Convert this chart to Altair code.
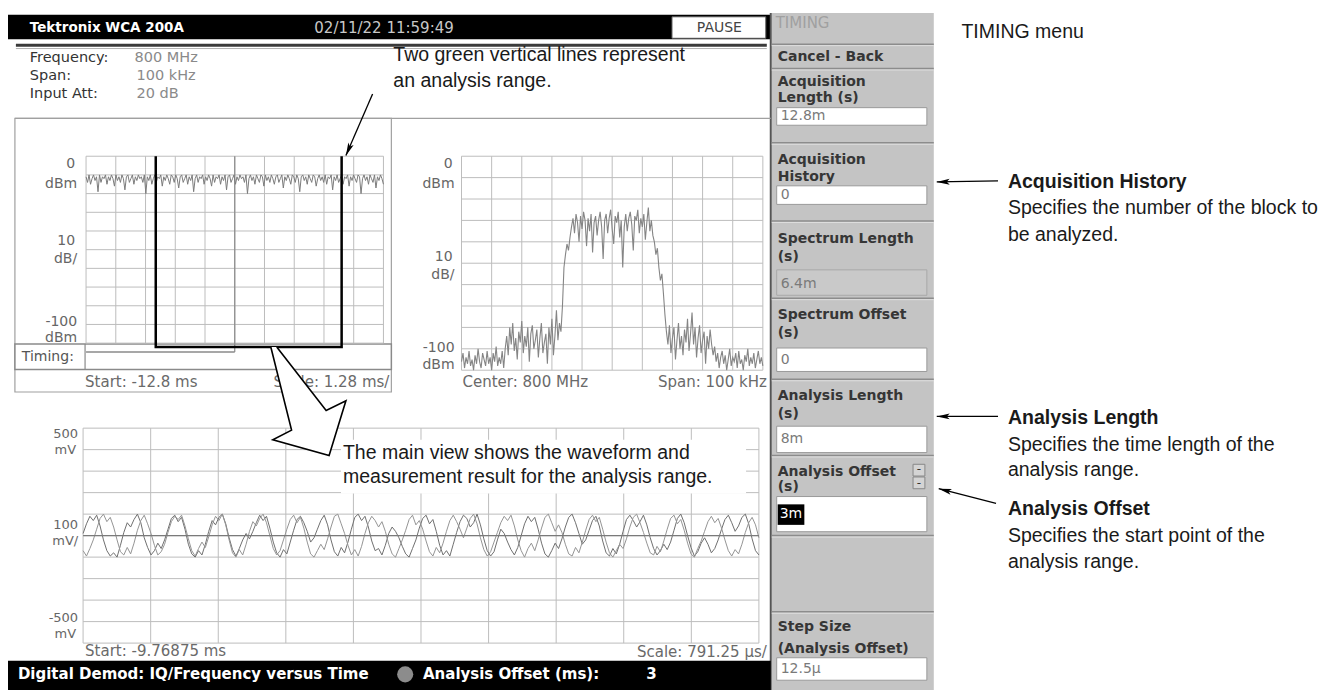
import math
import altair as alt
import pandas as pd

# ---------------- values ----------------
instrument = "Tektronix  WCA 200A"
timestamp = "02/11/22 11:59:49"
run_state = "PAUSE"
center_freq_mhz = 800
span_khz = 100
input_att_db = 20

# overview (power versus time), 0 dBm top, 10 dB/div
time_start_ms = -12.8
time_div_ms = 1.28
time_power_dbm = [
    -11, -14, -10, -15, -12, -10, -13, -11, -19, -10, -14, -11, -12, -10, -15, -11, -13, -10, -12, -16,
    -10, -13, -11, -14, -10, -12, -18, -11, -10, -14, -12, -10, -15, -11, -13, -10, -12, -11, -14, -10,
    -20, -11, -13, -10, -15, -12, -10, -14, -11, -12, -10, -16, -11, -13, -10, -12, -15, -10, -11, -14,
    -10, -12, -17, -11, -10, -14, -12, -10, -15, -11, -13, -10, -19, -12, -10, -14, -11, -12, -10, -15,
    -11, -13, -10, -12, -16, -10, -14, -11, -12, -10, -15, -11, -13, -10, -18, -11, -10, -14, -12, -10,
    -15, -11, -13, -10, -12, -11, -14, -10, -20, -12, -10, -13, -11, -15, -10, -12, -14, -10, -11, -16,
    -10, -13, -11, -14, -10, -12, -15, -11, -10, -14, -12, -10, -17, -11, -13, -10, -12, -15, -10, -11,
    -14, -10, -12, -19, -11, -10, -13, -11, -15, -10, -12, -14, -10, -11, -16, -12, -10, -13, -11, -14,
    -10, -15, -11, -12, -10, -18, -11, -13, -10, -14, -12, -10, -15, -11, -12, -10, -16, -11, -13, -10,
    -12, -14, -10, -11, -20, -12, -10, -13, -11, -15, -10, -12, -14, -10, -17, -11, -13, -10, -12, -15]

# spectrum (dBm), sampled every 0.5 kHz from -50 kHz to +50 kHz around the centre
spec_power_dbm = [
    -96, -92, -99, -94, -97, -91, -98, -95, -100, -93, -97, -90, -96, -99, -92, -95, -98, -91, -97, -94,
    -100, -92, -96, -89, -98, -94, -97, -91, -99,
    -90, -84, -93, -80, -88, -78, -91, -85, -95, -82, -87, -77, -92, -84, -89, -80, -96, -83, -79, -90,
    -86, -81, -94, -85, -78, -92, -87, -83, -97, -80, -88, -76, -93, -84, -72, -86, -78, -82,
    -70, -52, -46, -41, -44,
    -38, -33, -29, -36, -27, -31, -40, -28, -34, -26, -30, -42, -29, -35, -27, -45, -31, -28, -37, -30,
    -26, -33, -48, -30, -27, -36, -29, -25, -34, -41, -28, -31, -26, -38, -30, -52, -33, -27, -35, -29,
    -26, -32, -44, -28, -30, -25, -36, -29, -33, -27, -39, -31, -24, -35, -30, -37,
    -40, -46, -43, -52, -58, -55, -64, -74,
    -82, -88, -79, -92, -85, -80, -95, -86, -78, -90, -84, -93, -81, -87, -76, -91, -83, -73, -88, -80,
    -94, -85, -79, -92, -86, -82, -97, -84, -90, -81, -88, -93,
    -89, -96, -92, -99, -94, -91, -97, -93, -100, -95, -90, -98, -94, -96, -92, -99, -91, -97, -95, -100,
    -93, -96, -90, -98, -94, -97, -92, -99, -95, -91, -97, -94, -98]

# main view: IQ versus time (mV), 100 mV/div
wave_start_ms = -9.76875
wave_div_us = 791.25
wave_i_mv = [
    10, 55, 90, 70, 95, 45, -20, -70, -95, -80, -100, -45, 15, 60, 40, 75, 100, 60, -10, -55,
    -90, -70, -35, -60, -20, 30, 80, 95, 65, 85, 30, -40, -85, -100, -70, -90, -40, 20, 70, 50,
    85, 100, 55, -10, -65, -95, -60, -20, 10, -15, 20, 60, 95, 70, 90, 35, -30, -80, -100, -65,
    -85, -30, 25, 75, 90, 60, 20, -30, -10, 30, 70, 95, 50, -20, -75, -95, -55, -80, -30, 30,
    85, 100, 70, 90, 40, -25, -70, -60, -90, -45, 10, 40, 20, -10, -50, -85, -100, -60, -20, 35,
    80, 95, 55, 75, 20, -45, -90, -70, -95, -40, 15, 65, 95, 80, 40, 60, 100, 50, -15, -70,
    -95, -75, -20, 30, 10, -30, -65, -90, -55, 0, 55, 90, 65, 85, 30, -35, -85, -100, -70, -35,
    -60, -15, 40, 85, 100, 60, 10, -40, -20, 25, 70, 90, 45, -25, -80, -95, -60, -85, -40, 20,
    75, 95, 70, 40, 65, 95, 50, -10, -60, -90, -70, -40, -65, -30, 25, 80, 100, 60, 0, -55,
    -95, -75, -35, -10, -40, -80, -60, -20, 30, 75, 95, 60, 20, 45, 85, 100, 55, -15, -70, -90]
wave_q_mv = [
    -70, -95, -60, -20, 30, 80, 100, 65, 85, 40, -20, -75, -90, -55, -85, -35, 25, 70, 95, 55,
    10, -45, -90, -75, -40, 15, 65, 90, 75, 95, 45, -15, -70, -95, -60, -30, -55, -5, 50, 90,
    70, 100, 50, -20, -80, -100, -65, -90, -40, 20, 65, 45, 80, 100, 60, 0, -60, -90, -70, -20,
    30, 75, 95, 60, 85, 35, -30, -85, -100, -70, -40, -65, -15, 40, 90, 100, 55, 10, -45, -90,
    -65, -95, -50, 10, 60, 90, 70, 40, 65, 20, -40, -85, -100, -60, -20, 25, 75, 95, 50, 70,
    30, -25, -75, -95, -55, -80, -35, 20, 70, 95, 65, 30, -10, 35, 80, 100, 55, -10, -65, -95,
    -75, -30, 15, 60, 90, 70, 95, 45, -20, -70, -100, -60, -35, -70, -20, 35, 85, 100, 60, 20,
    50, 15, -40, -85, -95, -55, -80, -30, 25, 75, 95, 65, 85, 30, -30, -80, -100, -70, -40, -60,
    -15, 40, 85, 100, 60, 15, -35, -80, -90, -50, -75, -25, 30, 80, 95, 55, 75, 25, -35, -85,
    -100, -60, -25, 20, 65, 90, 60, 80, 35, -20, -70, -95, -65, -85, -40, 15, 60, 85, 50, -10]

# TIMING menu settings
acquisition_length_ms = 12.8
acquisition_history = 0
spectrum_length_ms = 6.4
spectrum_offset_ms = 0
analysis_length_ms = 8
analysis_offset_ms = 3
step_size_us = 12.5

# ---------------- layout (reference pixel space) ----------------
W, H = 1321, 682
RW, RH = 1337, 698


def X(r):
    return r * W / RW


def Y(r):
    return r * H / RH


UI = "DejaVu Sans"
AN = "Liberation Sans"

canvas_x = alt.Scale(domain=[0, RW], range=[0, W], nice=False, zero=False)
canvas_y = alt.Scale(domain=[0, RH], range=[0, H], nice=False, zero=False)


def cx(f="x"):
    return alt.X(f"{f}:Q", scale=canvas_x, axis=None)


def cy(f="y"):
    return alt.Y(f"{f}:Q", scale=canvas_y, axis=None)


def rects(rows, **mk):
    return alt.Chart(alt.Data(values=rows)).mark_rect(**mk).encode(
        x=cx(), x2=alt.X2("x2:Q"), y=cy(), y2=alt.Y2("y2:Q"))


def segs(rows, **mk):
    return alt.Chart(alt.Data(values=rows)).mark_rule(**mk).encode(
        x=cx(), x2=alt.X2("x2:Q"), y=cy(), y2=alt.Y2("y2:Q"))


def texts(rows, **mk):
    mk.setdefault("baseline", "middle")
    mk.setdefault("align", "left")
    return alt.Chart(alt.Data(values=rows)).mark_text(**mk).encode(x=cx(), y=cy(), text="t:N")


def hline(y, x0, x1):
    return dict(x=x0, x2=x1, y=y, y2=y)


def vline(x, y0, y1):
    return dict(x=x, x2=x, y=y0, y2=y1)


# ---------------- background chrome ----------------
MX0, MX1 = 773, 937
BX0, BX1 = 778, 930
SEPS = [37, 62, 138, 218, 297, 380, 458, 540, 618]
bg_layers = [
    rects([dict(x=0, x2=772, y=7, y2=32)], color="black"),
    rects([dict(x=672, x2=767, y=9, y2=31)], fill="white", stroke="#555", strokeWidth=1),
    segs([hline(38, 8, 768)], color="#3a3a3a", strokeWidth=3),
    segs([hline(41.5, 8, 768)], color="#b0b0b0", strokeWidth=1),
    # menu panel
    rects([dict(x=MX0, x2=MX1, y=5, y2=RH)], color="#c4c4c4"),
    segs([vline(772, 5, RH)], color="#555", strokeWidth=2),
    segs([hline(y, MX0, MX1) for y in SEPS], color="#8c8c8c", strokeWidth=1.5),
    segs([hline(y + 1.5, MX0, MX1) for y in SEPS], color="#dedede", strokeWidth=1),
    rects([dict(x=BX0, x2=BX1, y=a, y2=b) for a, b in [(102, 120), (182, 201), (348, 372),
                                                       (428, 455), (500, 536), (665, 688)]],
          fill="white", stroke="#9a9a9a", strokeWidth=1),
    rects([dict(x=BX0, x2=BX1, y=268, y2=294)], fill="#c9c9c9", stroke="#a8a8a8", strokeWidth=1),
    rects([dict(x=916, x2=928, y=467, y2=479), dict(x=916, x2=928, y=480, y2=492)],
          fill="#d4d4d4", stroke="#888", strokeWidth=1),
    rects([dict(x=BX0 + 1, x2=806, y=508, y2=529)], color="black"),
    # frames of the two upper views
    segs([hline(113, 7, 772)], color="#a0a0a0", strokeWidth=1.2),
    rects([dict(x=7, x2=388, y=113, y2=393)], fillOpacity=0, stroke="#a0a0a0", strokeWidth=1.2),
    rects([dict(x=7, x2=388, y=344, y2=370)], fill="white", stroke="#8a8a8a", strokeWidth=1.5),
    segs([vline(78, 344, 370)], color="#8a8a8a", strokeWidth=1.2),
    # footer
    rects([dict(x=0, x2=772, y=668, y2=RH)], color="black"),
    alt.Chart(alt.Data(values=[dict(x=402, y=682)])).mark_point(
        filled=True, size=260, color="#8c8c8c", opacity=1).encode(x=cx(), y=cy()),
]
background = alt.layer(*bg_layers)

# ---------------- overview panel (power versus time) ----------------
t_end = time_start_ms + 10 * time_div_ms
tsx = alt.Scale(domain=[time_start_ms, t_end], range=[X(79), X(380)], nice=False, zero=False)
tsy = alt.Scale(domain=[-100, 0], range=[Y(343), Y(151.7)], nice=False, zero=False)
n_t = len(time_power_dbm)
time_df = pd.DataFrame({
    "t": [time_start_ms + i * (t_end - time_start_ms) / (n_t - 1) for i in range(n_t)],
    "p": time_power_dbm,
})
t_grid_x = pd.DataFrame({"t": [time_start_ms + k * time_div_ms for k in range(11)]})
t_grid_y = pd.DataFrame({"p": [-10 * k for k in range(11)]})
a0 = time_start_ms + analysis_offset_ms
a1 = a0 + analysis_length_ms
bracket_df = pd.DataFrame({"t": [a0, a0, a1, a1], "p": [0, -102, -102, 0], "i": [0, 1, 2, 3]})
s0 = time_start_ms + spectrum_offset_ms
s1 = s0 + spectrum_length_ms
one = alt.Data(values=[{}])

time_panel = alt.layer(
    alt.Chart(t_grid_x).mark_rule(color="#bdbdbd", strokeWidth=1).encode(
        x=alt.X("t:Q", scale=tsx, axis=None),
        y=alt.Y(datum=0, scale=tsy, axis=None), y2=alt.Y2(datum=-100)),
    alt.Chart(t_grid_y).mark_rule(color="#bdbdbd", strokeWidth=1).encode(
        y=alt.Y("p:Q", scale=tsy, axis=None),
        x=alt.X(datum=time_start_ms, scale=tsx, axis=None), x2=alt.X2(datum=t_end)),
    alt.Chart(one).mark_rule(color="#8a8a8a", strokeWidth=1.2).encode(
        x=alt.X(datum=s1, scale=tsx, axis=None),
        y=alt.Y(datum=0, scale=tsy, axis=None), y2=alt.value(Y(352))),
    alt.Chart(one).mark_rule(color="#8a8a8a", strokeWidth=1.5).encode(
        x=alt.X(datum=s0, scale=tsx, axis=None), x2=alt.X2(datum=s1),
        y=alt.value(Y(352))),
    alt.Chart(time_df).mark_line(color="#7c7c7c", strokeWidth=1).encode(
        x=alt.X("t:Q", scale=tsx, axis=None), y=alt.Y("p:Q", scale=tsy, axis=None)),
    alt.Chart(bracket_df).mark_line(color="black", strokeWidth=2.5, strokeJoin="miter").encode(
        x=alt.X("t:Q", scale=tsx, axis=None), y=alt.Y("p:Q", scale=tsy, axis=None),
        order="i:Q"),
)

# ---------------- spectrum panel ----------------
half = span_khz / 2
fsx = alt.Scale(domain=[-half, half], range=[X(459), X(764)], nice=False, zero=False)
fsy = alt.Scale(domain=[-100, 0], range=[Y(370.7), Y(151.7)], nice=False, zero=False)
n_f = len(spec_power_dbm)
spec_df = pd.DataFrame({"f": [-half + i * span_khz / (n_f - 1) for i in range(n_f)],
                        "p": spec_power_dbm})
f_grid_x = pd.DataFrame({"f": [-half + k * span_khz / 10 for k in range(11)]})
f_grid_y = pd.DataFrame({"p": [-10 * k for k in range(11)]})
spec_panel = alt.layer(
    alt.Chart(f_grid_x).mark_rule(color="#bdbdbd", strokeWidth=1).encode(
        x=alt.X("f:Q", scale=fsx, axis=None),
        y=alt.Y(datum=0, scale=fsy, axis=None), y2=alt.Y2(datum=-100)),
    alt.Chart(f_grid_y).mark_rule(color="#bdbdbd", strokeWidth=1).encode(
        y=alt.Y("p:Q", scale=fsy, axis=None),
        x=alt.X(datum=-half, scale=fsx, axis=None), x2=alt.X2(datum=half)),
    alt.Chart(spec_df).mark_line(color="#858585", strokeWidth=1.1).encode(
        x=alt.X("f:Q", scale=fsx, axis=None), y=alt.Y("p:Q", scale=fsy, axis=None)),
)

# ---------------- main view (IQ versus time) ----------------
w_end = wave_start_ms + 10 * wave_div_us / 1000
wsx = alt.Scale(domain=[wave_start_ms, w_end], range=[X(76), X(760)], nice=False, zero=False)
wsy = alt.Scale(domain=[-500, 500], range=[Y(650), Y(430)], nice=False, zero=False)
rows = []
for name, series in (("I", wave_i_mv), ("Q", wave_q_mv)):
    n = len(series)
    for i, v in enumerate(series):
        rows.append({"t": wave_start_ms + i * (w_end - wave_start_ms) / (n - 1), "v": v, "s": name})
wave_df = pd.DataFrame(rows)
w_grid_x = pd.DataFrame({"t": [wave_start_ms + k * wave_div_us / 1000 for k in range(11)]})
w_grid_y = pd.DataFrame({"v": [-500 + 100 * k for k in range(11)]})
wave_panel = alt.layer(
    alt.Chart(w_grid_x).mark_rule(color="#bdbdbd", strokeWidth=1).encode(
        x=alt.X("t:Q", scale=wsx, axis=None),
        y=alt.Y(datum=500, scale=wsy, axis=None), y2=alt.Y2(datum=-500)),
    alt.Chart(w_grid_y).mark_rule(color="#bdbdbd", strokeWidth=1).encode(
        y=alt.Y("v:Q", scale=wsy, axis=None),
        x=alt.X(datum=wave_start_ms, scale=wsx, axis=None), x2=alt.X2(datum=w_end)),
    alt.Chart(wave_df).mark_line(strokeWidth=1).encode(
        x=alt.X("t:Q", scale=wsx, axis=None), y=alt.Y("v:Q", scale=wsy, axis=None),
        color=alt.Color("s:N", scale=alt.Scale(domain=["I", "Q"], range=["#707070", "#959595"]),
                        legend=None)),
    alt.Chart(one).mark_rule(color="#7a7a7a", strokeWidth=1.2).encode(
        y=alt.Y(datum=0, scale=wsy, axis=None),
        x=alt.X(datum=wave_start_ms, scale=wsx, axis=None), x2=alt.X2(datum=w_end)),
)

# ---------------- foreground: texts, arrows ----------------
def T(t, x, y):
    return dict(t=t, x=x, y=y)


menu_labels = [T("Cancel - Back", 779, 50),
               T("Acquisition", 779, 76), T("Length (s)", 779, 92),
               T("Acquisition", 779, 156), T("History", 779, 173),
               T("Spectrum Length", 779, 236), T("(s)", 779, 255),
               T("Spectrum Offset", 779, 314), T("(s)", 779, 333),
               T("Analysis Length", 779, 397), T("(s)", 779, 416),
               T("Analysis Offset", 779, 475), T("(s)", 779, 490),
               T("Step Size", 779, 634), T("(Analysis Offset)", 779, 656)]
menu_values = [T(f"{acquisition_length_ms:g}m", 782, 111), T(f"{acquisition_history}", 782, 191),
               T(f"{spectrum_length_ms:g}m", 782, 282), T(f"{spectrum_offset_ms}", 782, 360),
               T(f"{analysis_length_ms}m", 782, 441), T(f"{step_size_us:g}µ", 782, 676)]

arrows = [(1002, 177, 940, 178), (1002, 418, 940, 418), (1000, 507, 942, 492), (369, 88, 342, 151)]
heads = []
R = 6.5
for x0, y0, x1, y1 in arrows:
    dx, dy = x1 - x0, y1 - y0
    L = math.hypot(dx, dy)
    heads.append(dict(x=x1 - dx / L * R, y=y1 - dy / L * R,
                      a=math.degrees(math.atan2(dx, -dy)) % 360))

block_arrow = [(266, 347), (287, 432), (268, 442), (325, 458), (342, 402), (322, 412), (272, 347)]

fg_layers = [
    rects([dict(x=337, x2=747, y=442, y2=497)], color="white"),
    # header
    texts([T(instrument, 22, 20)], font=UI, fontSize=13.5, fontWeight="bold", color="white"),
    texts([T(timestamp, 310, 20)], font=UI, fontSize=15, color="#c8c8c8"),
    texts([T(run_state, 720, 20)], font=UI, fontSize=14, color="#444", align="center"),
    texts([T("TIMING", 777, 15)], font=UI, fontSize=15, color="#a0a0a0"),
    # measurement settings
    texts([T("Frequency:", 22, 51), T("Span:", 22, 70), T("Input Att:", 22, 88)],
          font=UI, fontSize=14.5, color="#333"),
    texts([T(f"{center_freq_mhz} MHz", 128, 51), T(f"{span_khz} kHz", 130, 70),
           T(f"{input_att_db} dB", 130, 88)], font=UI, fontSize=14.5, color="#8a8a8a"),
    # panel scale labels
    texts([T("0", 68, 160), T("dBm", 70, 180), T("10", 68, 238), T("dB/", 70, 257),
           T("-100", 70, 321), T("dBm", 70, 338),
           T("0", 450, 160), T("dBm", 452, 180), T("10", 450, 255), T("dB/", 452, 273),
           T("-100", 452, 348), T("dBm", 452, 365)],
          font=UI, fontSize=14, color="#666", align="right"),
    texts([T("500", 71, 436), T("mV", 69, 452), T("100", 71, 529), T("mV/", 71, 545),
           T("-500", 71, 624), T("mV", 69, 641)],
          font=UI, fontSize=13, color="#666", align="right"),
    texts([T(f"Start: {time_start_ms:g} ms", 78, 383), T(f"Center: {center_freq_mhz} MHz", 460, 383),
           T(f"Start: {wave_start_ms:g} ms", 78, 658)], font=UI, fontSize=15, color="#6a6a6a"),
    texts([T(f"Scale: {time_div_ms:g} ms/", 386, 383), T(f"Span: {span_khz} kHz", 768, 383),
           T(f"Scale: {wave_div_us:g} µs/", 768, 659)],
          font=UI, fontSize=15, color="#6a6a6a", align="right"),
    texts([T("Timing:", 14, 357)], font=UI, fontSize=14, color="#555"),
    # menu
    texts(menu_labels, font=UI, fontSize=14, fontWeight="bold", color="#363636"),
    texts(menu_values, font=UI, fontSize=14, color="#7a7a7a"),
    texts([T(f"{analysis_offset_ms}m", 781, 518)], font=UI, fontSize=14, color="white"),
    texts([T("-", 922, 472), T("-", 922, 486)], font=UI, fontSize=12, color="#333", align="center"),
    # footer
    texts([T("Digital Demod: IQ/Frequency versus Time", 10, 682),
           T("Analysis Offset (ms):", 420, 682), T(f"{analysis_offset_ms}", 646, 682)],
          font=UI, fontSize=15, fontWeight="bold", color="white"),
    # callouts
    texts([T("Two green vertical lines represent", 390, 48), T("an analysis range.", 390, 75),
           T("The main view shows the waveform and", 339, 455),
           T("measurement result for the analysis range.", 339, 480),
           T("TIMING menu", 965, 25),
           T("Specifies the number of the block to", 1012, 205), T("be analyzed.", 1012, 232),
           T("Specifies the time length of the", 1012, 447), T("analysis range.", 1012, 473),
           T("Specifies the start point of the", 1012, 540), T("analysis range.", 1012, 567)],
          font=AN, fontSize=19.5, color="#1a1a1a"),
    texts([T("Acquisition History", 1012, 178), T("Analysis Length", 1012, 420),
           T("Analysis Offset", 1012, 513)],
          font=AN, fontSize=19.5, fontWeight="bold", color="#1a1a1a"),
    segs([dict(x=a[0], y=a[1], x2=a[2], y2=a[3]) for a in arrows], color="black", strokeWidth=1.3),
    alt.Chart(alt.Data(values=heads)).mark_point(
        shape="M0,-1L0.45,1L0,0.55L-0.45,1Z", filled=True, size=(2 * R) ** 2, color="black",
        opacity=1).encode(x=cx(), y=cy(), angle=alt.Angle("a:Q", scale=None)),
    alt.Chart(alt.Data(values=[dict(x=p[0], y=p[1], i=k) for k, p in enumerate(block_arrow)]))
    .mark_line(fill="white", stroke="black", strokeWidth=1.6, strokeJoin="miter")
    .encode(x=cx(), y=cy(), order="i:Q"),
]
foreground = alt.layer(*fg_layers)

chart = (
    alt.layer(background, time_panel, spec_panel, wave_panel, foreground)
    .resolve_scale(x="independent", y="independent")
    .properties(width=W, height=H, padding=0, background="white")
    .configure_view(stroke=None)
)

chart.save("out.html", embed_options={"renderer": "svg", "actions": False})
